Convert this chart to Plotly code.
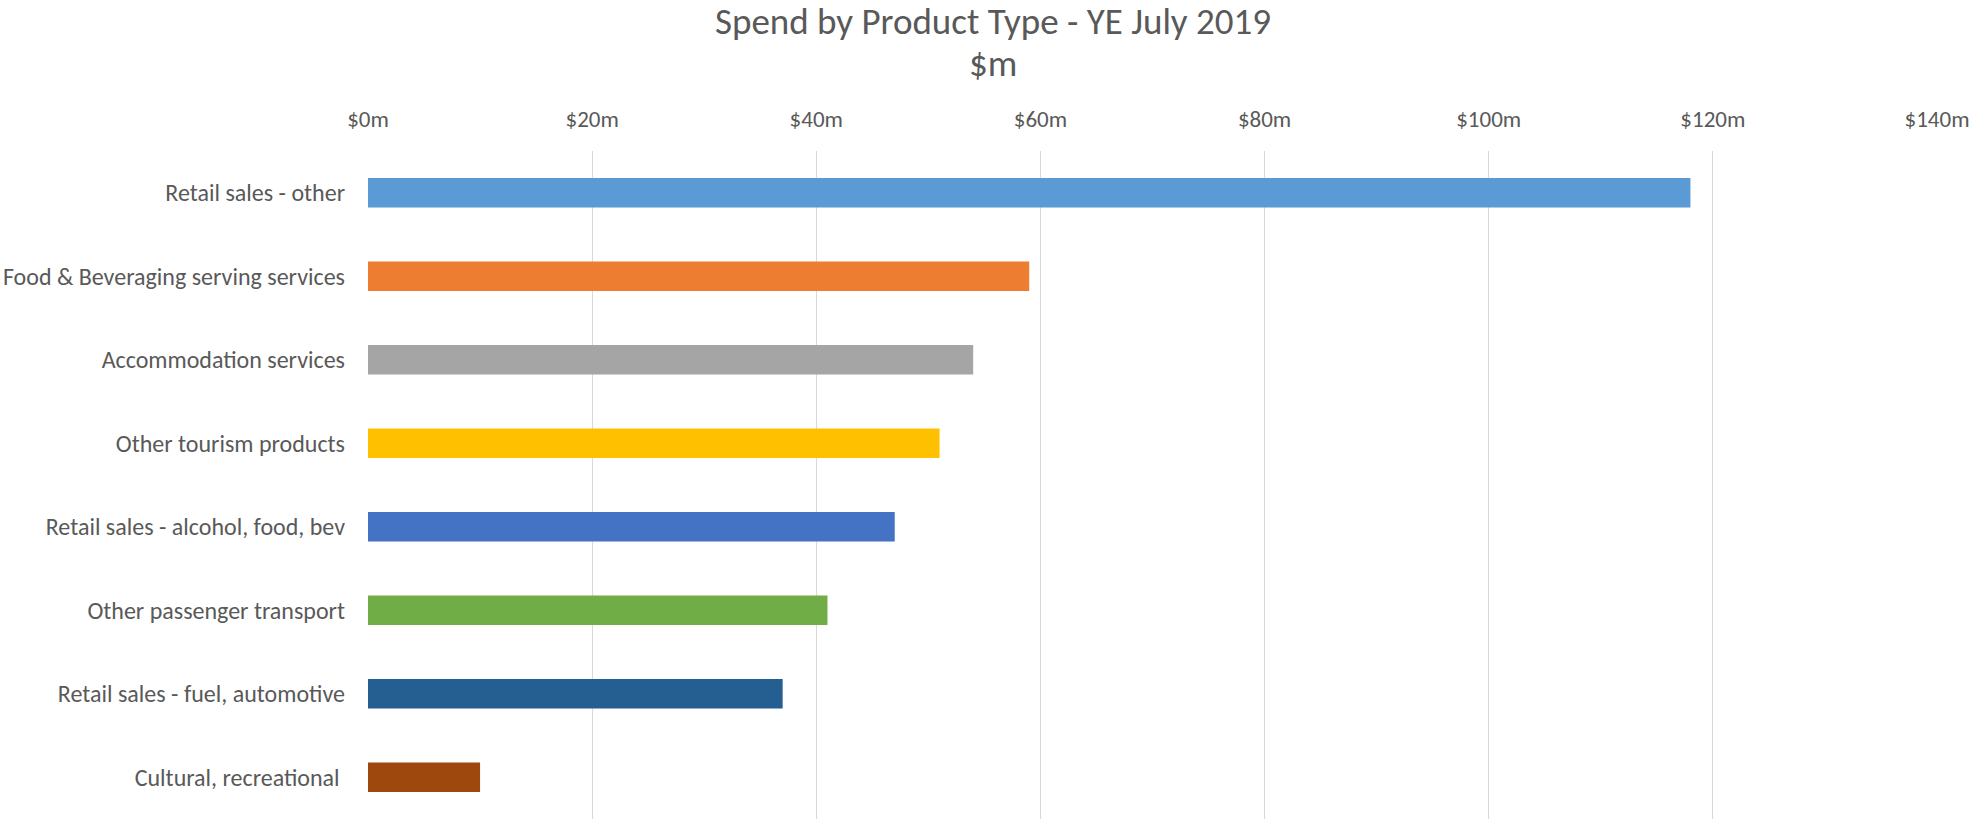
import plotly.graph_objects as go

# Spend by product type, year ending July 2019 ($m)
categories = [
    "Retail sales - other",
    "Food & Beveraging serving services",
    "Accommodation services",
    "Other tourism products",
    "Retail sales - alcohol, food, bev",
    "Other passenger transport",
    "Retail sales - fuel, automotive",
    "Cultural, recreational\u00a0",
]
spend = [118, 59, 54, 51, 47, 41, 37, 10]
bar_colors = [
    "#5B9BD5", "#ED7D31", "#A5A5A5", "#FFC000",
    "#4472C4", "#70AD47", "#255E91", "#9E480E",
]
tick_values = [0, 20, 40, 60, 80, 100, 120, 140]
tick_labels = ["$0m", "$20m", "$40m", "$60m", "$80m", "$100m", "$120m", "$140m"]

FONT = "Carlito, Calibri, Lato, sans-serif"
TEXT = "#595959"

fig = go.Figure(
    go.Bar(
        x=spend,
        y=categories,
        orientation="h",
        marker=dict(color=bar_colors, line=dict(width=0)),
        showlegend=False,
    )
)

# centre the two title lines on the page rather than the plot area
title_x = (992 - 366) / (1973 - 366 - 35)

fig.update_layout(
    width=1973,
    height=822,
    margin=dict(l=366, r=35, t=151, b=3),
    paper_bgcolor="white",
    plot_bgcolor="white",
    bargap=0.645,
    font=dict(family=FONT, color=TEXT),
    annotations=[
        dict(text="Spend by Product Type - YE July 2019", xref="paper", yref="paper",
             x=title_x, y=1.1946, xanchor="center", yanchor="middle", showarrow=False,
             font=dict(family=FONT, size=37, color=TEXT)),
        dict(text="$m", xref="paper", yref="paper",
             x=title_x, y=1.1317, xanchor="center", yanchor="middle", showarrow=False,
             font=dict(family=FONT, size=37, color=TEXT)),
    ],
)

fig.update_xaxes(
    side="top",
    range=[0, 140],
    tickmode="array",
    tickvals=tick_values,
    ticktext=tick_labels,
    showgrid=True,
    gridcolor="#D9D9D9",
    gridwidth=1.3,
    zeroline=False,
    showline=False,
    ticks="",
    ticklabelstandoff=18,
    tickfont=dict(family=FONT, size=23, color=TEXT),
    fixedrange=True,
)
fig.update_yaxes(
    autorange="reversed",
    showgrid=False,
    zeroline=False,
    showline=False,
    ticks="",
    ticklabelstandoff=22,
    tickfont=dict(family=FONT, size=24, color=TEXT),
    fixedrange=True,
)

fig.write_html("out.html")
